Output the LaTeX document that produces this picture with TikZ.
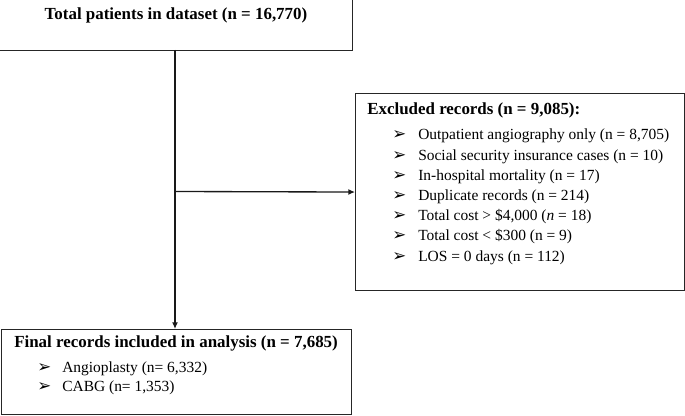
\documentclass[tikz,border=0pt]{standalone}
\usepackage{fontspec}
\setmainfont{Liberation Serif}
\newfontfamily\dingfont{DejaVu Sans}
\usetikzlibrary{arrows.meta}
\newcommand{\arrbul}{{\dingfont\bfseries\fontsize{12.5}{13}\selectfont\symbol{"27A2}}}
\begin{document}
\begin{tikzpicture}[x=0.75pt,y=-0.75pt,
  box/.style={draw=black!85,line width=0.8pt,anchor=north west,inner sep=0pt},
  ttl/.style={font=\fontsize{12.7}{14}\selectfont\bfseries,anchor=base west,inner sep=0pt},
  itm/.style={font=\fontsize{11.6}{13}\selectfont,anchor=base west,inner sep=0pt},
  bul/.style={anchor=base west,inner sep=0pt},
  conn/.style={line width=1pt,black!90},
  tip/.style={-{Latex[length=5pt,width=4.5pt]}}]
\useasboundingbox (0,0) rectangle (685,416);
% boxes
\node[box,minimum width=354*0.75pt,minimum height=52*0.75pt] (total) at (-2,-2) {};
\node[box,minimum width=329*0.75pt,minimum height=197*0.75pt] (excl) at (355,93) {};
\node[box,minimum width=350*0.75pt,minimum height=85*0.75pt] (final) at (1,329) {};
% texts
\node[ttl,anchor=base] (ttot) at (176,20) {Total patients in dataset (n = 16,770)};
\node[ttl] (texcl) at (367,115) {Excluded records (n = 9,085):};
\foreach \t [count=\i] in {{Outpatient angiography only (n = 8,705)},
  {Social security insurance cases (n = 10)},
  {In-hospital mortality (n = 17)},
  {Duplicate records (n = 214)},
  {Total cost > \$4,000 (\textit{n} = 18)},
  {Total cost < \$300 (n = 9)},
  {LOS = 0 days (n = 112)}}{
  \node[bul] (eb\i) at (392,140+20.2*\i-20.2) {\arrbul};
  \node[itm] (ei\i) at (418,140+20.2*\i-20.2) {\t};
}
\node[ttl] (tfin) at (14,348) {Final records included in analysis (n = 7,685)};
\node[bul] (fb1) at (37,373) {\arrbul};
\node[itm] (fi1) at (62,373) {Angioplasty (n= 6,332)};
\node[bul] (fb2) at (37,392) {\arrbul};
\node[itm] (fi2) at (62,392) {CABG (n= 1,353)};
% connectors
\coordinate (top) at (175,50);
\coordinate (bot) at (175,329);
\coordinate (mid) at (175,191.5);
\draw[conn,tip] (top) -- (bot);
\draw[conn,tip] (mid) -- (excl.west);
\end{tikzpicture}
\end{document}
